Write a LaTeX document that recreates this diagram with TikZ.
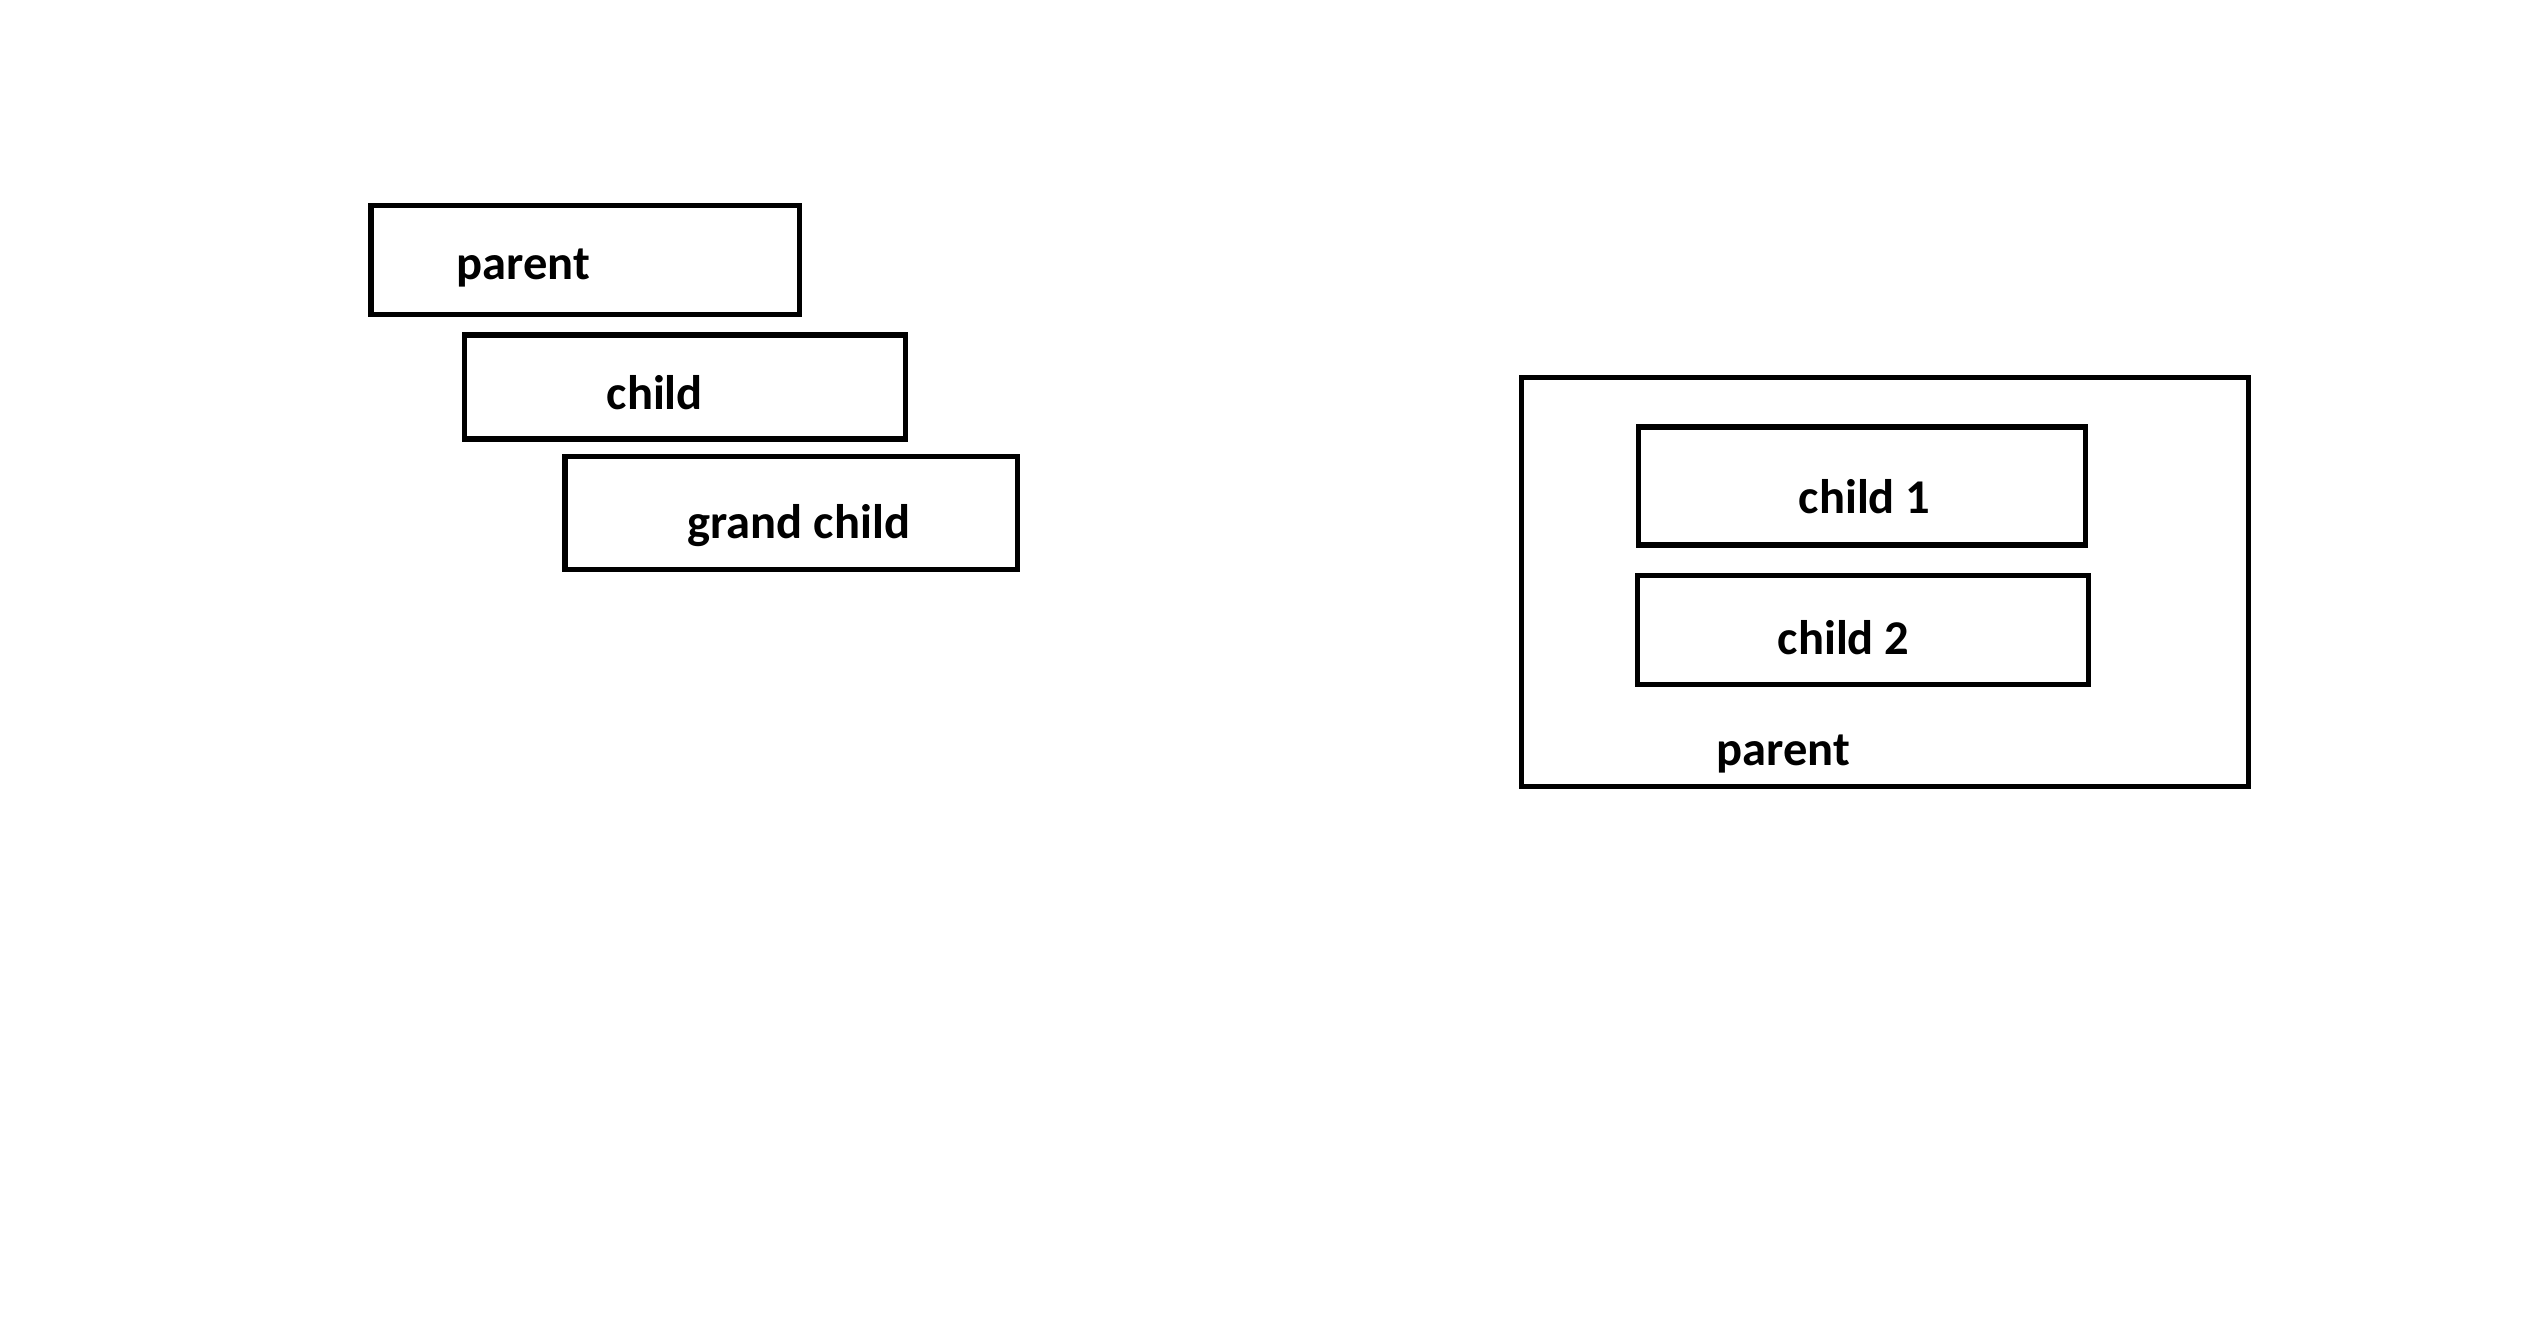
\documentclass[tikz,border=0pt]{standalone}
\usepackage{fontspec}
\setmainfont{Carlito}
\begin{document}
\begin{tikzpicture}[x=0.01cm, y=-0.01cm,
    box/.style={draw, line width=1.5pt, inner sep=0pt},
    lbl/.style={anchor=base west, inner sep=0pt,
      font=\fontsize{13.8pt}{16pt}\selectfont\bfseries}]

  \useasboundingbox (0,0) rectangle (2531,1318);

  %%%%%%%%%%%%%%%%%%%%%%%%%%%%%%%%%%%%%%%%%%%%%%%%%
  \begin{scope}
    % Stacked boxes
    \node[box, minimum width=4.28cm, minimum height=1.09cm] (parentA) at (585,260) {};
    \node[box, minimum width=4.41cm, minimum height=1.04cm] (childA) at (685,387) {};
    \node[box, minimum width=4.52cm, minimum height=1.13cm] (grandA) at (791,513) {};

    % Labels
    \node[lbl] (parentAtxt) at (456,279) {parent};
    \node[lbl] (childAtxt) at (606,409) {child};
    \node[lbl] (grandAtxt) at (687,538) {grand child};
  \end{scope}

  %%%%%%%%%%%%%%%%%%%%%%%%%%%%%%%%%%%%%%%%%%%%%%%%%
  \begin{scope}
    % Outer box
    \node[box, minimum width=7.26cm, minimum height=4.09cm] (parentB) at (1885,582) {};

    % Inner boxes
    \node[box, minimum width=4.47cm, minimum height=1.18cm] (childB) at (1862,486) {};
    \node[box, minimum width=4.51cm, minimum height=1.09cm] (childC) at (1863,630) {};

    % Labels
    \node[lbl] (childBtxt) at (1798,513) {child 1};
    \node[lbl] (childCtxt) at (1777,654) {child 2};
    \node[lbl] (parentBtxt) at (1716,765) {parent};
  \end{scope}

\end{tikzpicture}
\end{document}
